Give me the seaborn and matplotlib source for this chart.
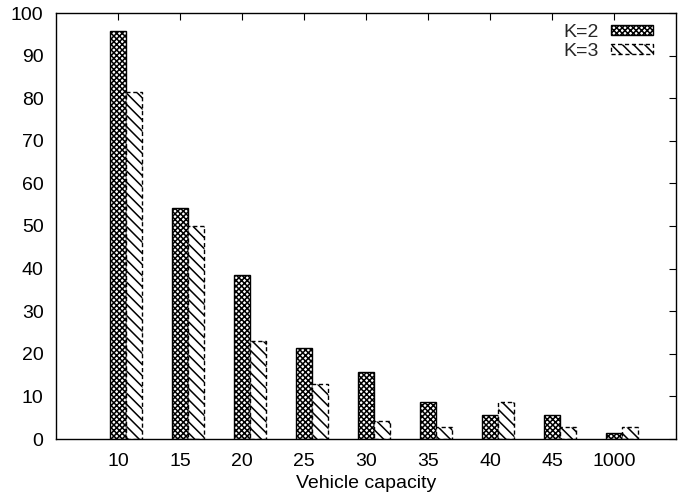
import matplotlib
matplotlib.use("Agg")
import matplotlib.pyplot as plt
import seaborn as sns
import pandas as pd
import numpy as np

capacities = ["10", "15", "20", "25", "30", "35", "40", "45", "1000"]
k2_values = [95.7, 54.3, 38.6, 21.4, 15.7, 8.6, 5.7, 5.7, 1.4]
k3_values = [81.4, 50.0, 22.9, 12.9, 4.3, 2.9, 8.6, 2.9, 2.9]
series_labels = ["K=2", "K=3"]
y_ticks = list(range(0, 101, 10))

df = pd.DataFrame({
    "capacity": capacities * 2,
    "value": k2_values + k3_values,
    "K": [series_labels[0]] * len(capacities) + [series_labels[1]] * len(capacities),
})

sns.set_style("white")
plt.rcParams["font.family"] = ["Liberation Sans", "DejaVu Sans"]
plt.rcParams["hatch.linewidth"] = 1.1

fig = plt.figure(figsize=(6.79, 5.04), dpi=100)
ax = fig.add_axes([56 / 679, 65 / 504, 620 / 679, 426 / 504])

width = 0.52
sns.barplot(data=df, x="capacity", y="value", hue="K", order=capacities,
            hue_order=series_labels, width=width, palette=["white", "white"],
            edgecolor="black", linewidth=1.0, saturation=1, legend=False, ax=ax)

BS = chr(92)
hatches = ["xxxxxx", BS * 3]
styles = ["-", (0, (3, 2))]
for cont, h, ls in zip(ax.containers, hatches, styles):
    for p in cont.patches:
        p.set_hatch(h)
        p.set_linestyle(ls)
        p.set_edgecolor("black")
        p.set_facecolor("white")

off = width / 4
n = len(capacities)
ax.set_xlim(-1 - off, n - off)
ax.set_xticks(np.arange(n) - off)
ax.set_xticklabels(capacities)
ax.set_ylim(0, 100)
ax.set_yticks(y_ticks)

ax.tick_params(axis="both", direction="in", length=5, width=0.8, color="black",
               labelsize=14, top=True, right=True, labelcolor="black")
ax.tick_params(axis="y", pad=9)
ax.tick_params(axis="x", pad=10)
for s in ax.spines.values():
    s.set_visible(True)
    s.set_color("black")
    s.set_linewidth(1.0)

ax.set_xlabel("Vehicle capacity", fontsize=14, labelpad=4, color="black")
ax.set_ylabel("")

leg = ax.legend(ax.containers, series_labels, loc="upper right", frameon=False,
                markerfirst=False, fontsize=14, handlelength=2.2, handleheight=0.42,
                handletextpad=0.6, labelspacing=0.1, borderaxespad=0.15,
                bbox_to_anchor=(1 - 12 / 620, 1.0))

fig.savefig("out.png", dpi=100)
